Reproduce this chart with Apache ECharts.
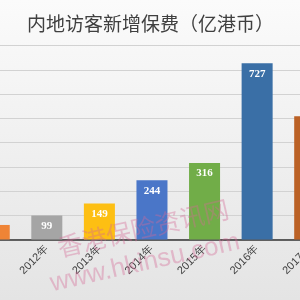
<!DOCTYPE html>
<html>
<head>
<meta charset="utf-8">
<script src="https://cdn.jsdelivr.net/npm/echarts@6/dist/echarts.min.js"></script>
<style>
html,body{margin:0;padding:0;overflow:hidden;width:300px;height:300px;background:#eeeeee;}
#c{position:absolute;left:-36px;top:0;width:372px;height:300px;}
</style>
</head>
<body>
<div id="c"></div>
<script>
var titleText = '内地访客新增保费（亿港币）';
var categories = ['2011年','2012年','2013年','2014年','2015年','2016年','2017年'];
var values = [60, 99, 149, 244, 316, 727, 508];
var barColors = ['#ef8436','#a5a5a5','#fdbf13','#4a76c8','#71ad48','#3a6fa6','#bb6125'];
var yTicks = [0,100,200,300,400,500,600,700,800];
var watermark1 = '香港保险资讯网';
var watermark2 = 'www.hkinsu.com';

var shift = 36; // chart canvas starts 36px left of the viewport
var chart = echarts.init(document.getElementById('c'), null, {renderer:'canvas'});
var option = {
  animation:false,
  backgroundColor:{type:'linear',x:0,y:0,x2:0,y2:1,colorStops:[{offset:0,color:'#fbfbfb'},{offset:1,color:'#e4e4e4'}]},
  title:{
    text:titleText,
    left:22+shift, top:9,
    textStyle:{fontFamily:'Noto Sans CJK SC',fontSize:19,fontWeight:'normal',color:'#404040'}
  },
  grid:{left:0,right:0,top:45.6,bottom:60.5,containLabel:false},
  xAxis:{
    type:'category',
    data:categories,
    axisLine:{show:true,lineStyle:{color:'#333333',width:1.5}},
    axisTick:{show:false},
    axisLabel:{interval:0,rotate:45,margin:8,fontSize:11,color:'#404040',fontFamily:'Liberation Sans'}
  },
  yAxis:{
    type:'value',
    min:yTicks[0], max:yTicks[yTicks.length-1], interval:100,
    axisLabel:{show:false},
    axisLine:{show:false},
    axisTick:{show:false},
    splitLine:{lineStyle:{color:'#d2d2d2',width:1}}
  },
  series:[{
    type:'bar',
    barWidth:'59%',
    data:values.map(function(v,i){return {value:v,itemStyle:{color:barColors[i]}};}),
    label:{
      show:true, position:'insideTop', distance:5,
      color:'#ffffff', fontSize:11, fontWeight:'bold', fontFamily:'Liberation Serif'
    }
  }],
  graphic:[
    {type:'text', x:143+shift, y:228, rotation:13*Math.PI/180, z:100,
     style:{text:watermark1, font:'25px "Noto Sans CJK SC"', fill:'rgba(214,105,150,0.38)', align:'center', verticalAlign:'middle', textAlign:'center', textVerticalAlign:'middle'}},
    {type:'text', x:145+shift, y:263, rotation:12.7*Math.PI/180, z:100,
     style:{text:watermark2, font:'26px "Liberation Sans"', fill:'rgba(214,105,150,0.38)', align:'center', verticalAlign:'middle', textAlign:'center', textVerticalAlign:'middle'}}
  ]
};
chart.setOption(option);
</script>
</body>
</html>
